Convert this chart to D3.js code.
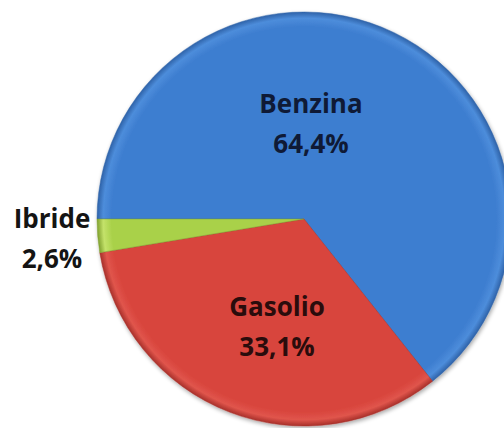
<!DOCTYPE html>
<html><head><meta charset="utf-8">
<script src="https://cdn.jsdelivr.net/npm/d3@7/dist/d3.min.js"></script>
<style>html,body{margin:0;padding:0;background:#fff;overflow:hidden}</style>
</head><body>
<svg id="chart" width="504" height="428"></svg>
<script>
const categories = ["Benzina", "Gasolio", "Ibride"];
const values = [64.4, 33.1, 2.6];
const valueLabels = ["64,4%", "33,1%", "2,6%"];
const colors = ["#3e7ed0", "#d8443c", "#a9d14a"];
const darkColors = ["#2e62a8", "#a8302a", "#7fa02e"];
const lightColors = ["#4d8ddb", "#e0554c", "#c4e26a"];
const textColors = ["#0f1a36", "#2a0c0c", "#141414"];

const svg = d3.select("#chart");
const cx = 304, cy = 219, r = 207;
const defs = svg.append("defs");

colors.forEach((c, i) => {
  const g = defs.append("radialGradient").attr("id", "g" + i)
    .attr("gradientUnits", "userSpaceOnUse")
    .attr("cx", 0).attr("cy", 0).attr("r", r);
  g.append("stop").attr("offset", "0%").attr("stop-color", c);
  g.append("stop").attr("offset", "93%").attr("stop-color", c);
  g.append("stop").attr("offset", "97%").attr("stop-color", lightColors[i]);
  g.append("stop").attr("offset", "100%").attr("stop-color", darkColors[i]);
});
const f = defs.append("filter").attr("id", "shadow").attr("x", "-10%").attr("y", "-10%").attr("width", "120%").attr("height", "120%");
f.append("feGaussianBlur").attr("in", "SourceAlpha").attr("stdDeviation", 2);
f.append("feOffset").attr("dx", 1).attr("dy", 2).attr("result", "b");
f.append("feComponentTransfer").append("feFuncA").attr("type", "linear").attr("slope", 0.35);
const m = f.append("feMerge");
m.append("feMergeNode");
m.append("feMergeNode").attr("in", "SourceGraphic");

const pie = d3.pie().sort(null).value(d => d)
  .startAngle(-Math.PI / 2).endAngle(1.5 * Math.PI);
const arcs = pie(values);
const arc = d3.arc().innerRadius(0).outerRadius(r);

const g = svg.append("g").attr("transform", `translate(${cx},${cy})`).attr("filter", "url(#shadow)");
g.selectAll("path").data(arcs).join("path")
  .attr("d", arc)
  .attr("fill", (d, i) => `url(#g${i})`)
  .attr("stroke", (d, i) => darkColors[i])
  .attr("stroke-opacity", 0.6)
  .attr("stroke-width", 0.8);

// label positions (absolute)
const labelX = [311, 277, 52];
const labelY = [113, 316, 228];
const tg = svg.append("g");
categories.forEach((c, i) => {
  const t = tg.append("text")
    .attr("x", labelX[i]).attr("y", labelY[i])
    .attr("text-anchor", "middle")
    .attr("font-family", "'Open Sans', sans-serif")
    .attr("font-weight", "bold")
    .attr("font-size", 26)
    .attr("fill", textColors[i]);
  t.append("tspan").attr("x", labelX[i]).text(c);
  t.append("tspan").attr("x", labelX[i]).attr("dy", 40).text(valueLabels[i]);
});
</script>
</body></html>
